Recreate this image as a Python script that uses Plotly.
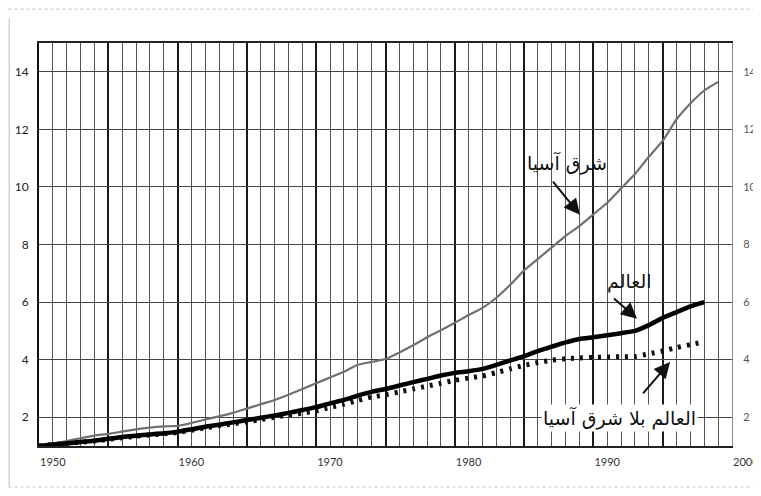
import plotly.graph_objects as go

years_ea = list(range(1950, 2000))
east_asia = [1.00, 1.08, 1.17, 1.27, 1.36, 1.42, 1.50, 1.58, 1.64, 1.68,
             1.70, 1.80, 1.92, 2.03, 2.15, 2.30, 2.45, 2.60, 2.78, 2.98,
             3.18, 3.38, 3.58, 3.82, 3.92, 4.02, 4.25, 4.50, 4.78, 5.02,
             5.28, 5.55, 5.80, 6.15, 6.60, 7.10, 7.50, 7.90, 8.30, 8.65,
             9.05, 9.45, 9.95, 10.45, 11.05, 11.60, 12.35, 12.90, 13.35, 13.65]

years_w = list(range(1950, 1999))
world = [1.00, 1.05, 1.09, 1.14, 1.18, 1.25, 1.31, 1.36, 1.40, 1.44,
         1.50, 1.58, 1.67, 1.74, 1.82, 1.90, 1.98, 2.06, 2.15, 2.25,
         2.35, 2.48, 2.60, 2.75, 2.88, 2.98, 3.10, 3.22, 3.33, 3.45,
         3.54, 3.60, 3.68, 3.82, 3.97, 4.12, 4.30, 4.45, 4.60, 4.72,
         4.78, 4.85, 4.92, 5.00, 5.20, 5.45, 5.65, 5.85, 6.00]
world_ex_ea = [1.00, 1.05, 1.09, 1.13, 1.17, 1.23, 1.29, 1.34, 1.38, 1.42,
               1.47, 1.55, 1.63, 1.70, 1.77, 1.84, 1.92, 2.00, 2.08, 2.14,
               2.22, 2.34, 2.45, 2.58, 2.70, 2.78, 2.88, 2.98, 3.08, 3.18,
               3.28, 3.36, 3.43, 3.55, 3.68, 3.80, 3.90, 3.98, 4.03, 4.06,
               4.08, 4.09, 4.10, 4.11, 4.20, 4.30, 4.42, 4.52, 4.62]

x_tickvals = list(range(1950, 2001, 5))
x_ticktext = [str(v) if v % 10 == 0 else "" for v in x_tickvals]
y_tickvals = [2, 4, 6, 8, 10, 12, 14]

label_ea = "شرق آسيا"
label_world = "العالم"
label_ex = "العالم بلا شرق آسيا"

fig = go.Figure()
fig.add_trace(go.Scatter(x=years_ea, y=east_asia, mode="lines",
                         line=dict(color="#707070", width=2.2, shape="spline", smoothing=0.5),
                         hoverinfo="skip"))
fig.add_trace(go.Scatter(x=years_w, y=world_ex_ea, mode="lines",
                         line=dict(color="#111111", width=5, dash="3px,6px",
                                   shape="spline", smoothing=0.5), hoverinfo="skip"))
fig.add_trace(go.Scatter(x=years_w, y=world, mode="lines",
                         line=dict(color="#000000", width=4.5, shape="spline", smoothing=0.5),
                         hoverinfo="skip"))
# invisible trace to activate right-hand axis
fig.add_trace(go.Scatter(x=years_w, y=world, mode="lines", yaxis="y2",
                         line=dict(color="rgba(0,0,0,0)", width=0), hoverinfo="skip"))

tick_font = dict(family="Lato, DejaVu Sans", size=12, color="#222222")

fig.update_layout(
    width=753, height=488,
    margin=dict(l=31, r=29, t=35, b=50),
    paper_bgcolor="white", plot_bgcolor="white",
    showlegend=False,
    xaxis=dict(range=[1950, 2000], tickvals=x_tickvals, ticktext=x_ticktext,
               ticks="", ticklabelposition="outside right", automargin=False,
               ticklabelstandoff=5,
               tickfont=dict(family="Lato, DejaVu Sans", size=11, color="#333333"),
               showgrid=True, gridcolor="#1a1a1a", gridwidth=1.8,
               minor=dict(dtick=1, showgrid=True, gridcolor="#555555", gridwidth=1),
               showline=True, linecolor="#222222", linewidth=2, mirror=True,
               zeroline=False),
    yaxis=dict(range=[1, 15], tickvals=y_tickvals, ticks="", automargin=False,
               tickfont=tick_font, ticklabelstandoff=6,
               showgrid=True, gridcolor="#444444", gridwidth=1.2,
               showline=True, linecolor="#111111", linewidth=2, mirror=False,
               zeroline=False),
    yaxis2=dict(range=[1, 15], tickvals=y_tickvals, overlaying="y", side="right",
                ticks="", showgrid=False, zeroline=False, automargin=False,
                tickfont=dict(family="Lato, DejaVu Sans", size=11, color="#555555"),
                ticklabelstandoff=8,
                showline=True, linecolor="#888888", linewidth=1),
)

arabic_font = dict(family="DejaVu Sans, Noto Sans", size=19, color="#111111")

fig.add_annotation(x=1988.1, y=10.84, text=label_ea, showarrow=False, font=arabic_font)
fig.add_annotation(x=1992.57, y=6.7, text=label_world, showarrow=False, font=arabic_font)
fig.add_annotation(x=1991.85, y=1.97, text=label_ex, showarrow=False, font=arabic_font,
                   bgcolor="white", borderpad=1)

arrow_style = dict(showarrow=True, arrowhead=2, arrowsize=1.6, arrowwidth=2,
                   arrowcolor="#111111", text=" ", axref="pixel", ayref="pixel")
fig.add_annotation(x=1989.03, y=9.03, ax=-30, ay=-37, **arrow_style)
fig.add_annotation(x=1993.15, y=5.42, ax=-26, ay=-23, **arrow_style)
fig.add_annotation(x=1995.53, y=3.92, ax=-30, ay=35, **arrow_style)

# scanned page edges
fig.add_shape(type="line", xref="paper", yref="paper", x0=-0.044, x1=1.04, y0=1.084, y1=1.084,
              line=dict(color="#bbbbbb", width=1, dash="dot"))
fig.add_shape(type="line", xref="paper", yref="paper", x0=-0.043, x1=-0.043, y0=1.06, y1=-0.102,
              line=dict(color="#bbbbbb", width=1))
fig.add_shape(type="line", xref="paper", yref="paper", x0=-0.044, x1=1.04, y0=-0.102, y1=-0.102,
              line=dict(color="#cccccc", width=1, dash="dot"))

fig.write_html("out.html")
